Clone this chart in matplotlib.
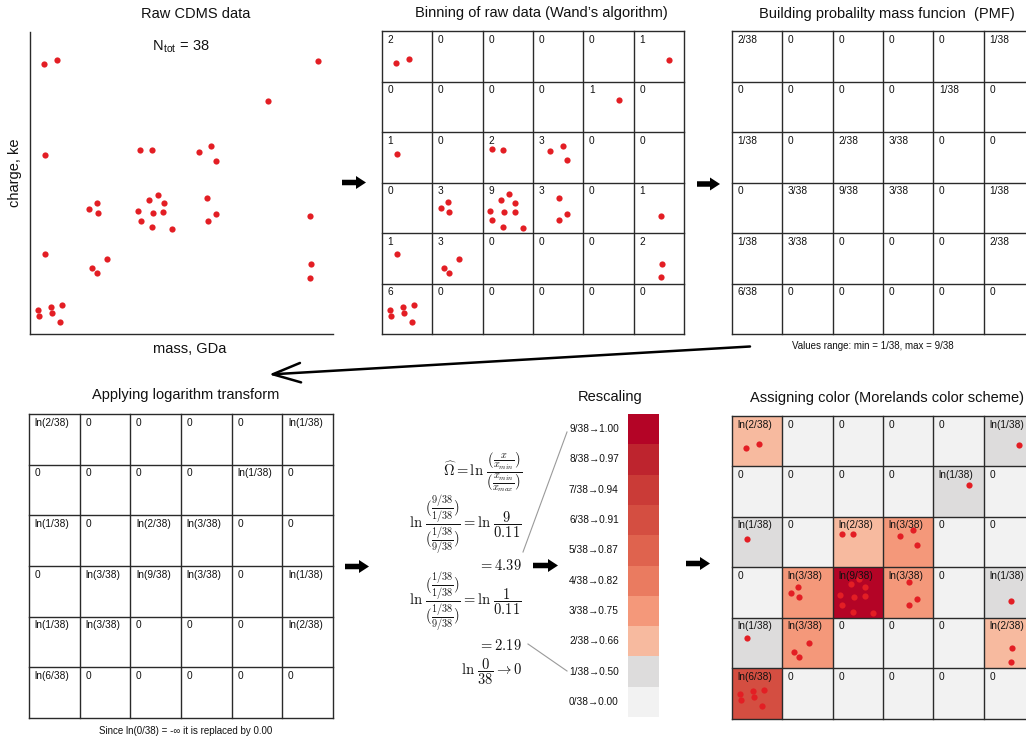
import numpy as np
import matplotlib
matplotlib.use("Agg")
import matplotlib.pyplot as plt
from matplotlib.patches import FancyArrow

plt.rcParams['font.family'] = ['Liberation Sans', 'DejaVu Sans']
plt.rcParams['mathtext.fontset'] = 'cm'

# ---------------- data ----------------
mass = [0.28, 0.54, 5.71, 4.71, 0.30, 2.18, 2.41, 3.34, 3.59, 3.68,
        2.53, 2.36, 2.65, 2.14, 2.43, 2.64, 2.19, 2.41, 2.81, 3.51,
        3.68, 3.52, 1.32, 1.17, 1.34, 5.54, 0.30, 1.52, 1.23, 1.33,
        5.56, 5.54, 0.15, 0.18, 0.41, 0.44, 0.63, 0.60]
charge = [5.36, 5.44, 5.43, 4.63, 3.56, 3.66, 3.65, 3.62, 3.73, 3.44,
          2.77, 2.66, 2.60, 2.44, 2.41, 2.42, 2.25, 2.12, 2.09, 2.70,
          2.38, 2.25, 2.61, 2.49, 2.41, 2.34, 1.59, 1.49, 1.31, 1.21,
          1.39, 1.12, 0.48, 0.36, 0.54, 0.42, 0.57, 0.24]
n_bins = 6
n_total = 38
cb_numerators = [0, 1, 2, 3, 4, 5, 6, 7, 8, 9]
cb_values = [0.00, 0.50, 0.66, 0.75, 0.82, 0.87, 0.91, 0.94, 0.97, 1.00]
formula_results = [4.39, 2.19]

counts, _, _ = np.histogram2d(mass, charge, bins=n_bins, range=[[0, 6], [0, 6]])
counts = counts.astype(int)  # counts[i_mass, j_charge]

W, H = 1026, 744
fig = plt.figure(figsize=(W / 100, H / 100), dpi=100)

def px_axes(x0, y0, x1, y1):
    return fig.add_axes([x0 / W, 1 - y1 / H, (x1 - x0) / W, (y1 - y0) / H])

cmap = plt.get_cmap('coolwarm').with_extremes(bad='#f2f2f2')
dot_color = '#e31e24'
line_color = '#2a2a2a'
val_lookup = dict(zip(cb_numerators, cb_values))

# -------------- raw scatter --------------
ax = px_axes(30, 32, 333, 334)
ax.scatter(mass, charge, s=20, color=dot_color, linewidths=0, zorder=3)
ax.set_xlim(0, 6)
ax.set_ylim(0, 6)
ax.set_xticks([])
ax.set_yticks([])
for s in ['top', 'right']:
    ax.spines[s].set_visible(False)
for s in ['left', 'bottom']:
    ax.spines[s].set_color(line_color)
    ax.spines[s].set_linewidth(1.0)
ax.patch.set_alpha(0)

def grid_axes(x0, y0, x1, y1, labels, colors=None, dots=False):
    g = px_axes(x0, y0, x1, y1)
    g.set_xlim(0, 6)
    g.set_ylim(0, 6)
    g.set_xticks([])
    g.set_yticks([])
    for s in g.spines.values():
        s.set_visible(False)
    g.patch.set_alpha(0)
    if colors is not None:
        edges = np.arange(n_bins + 1)
        g.pcolormesh(edges, edges, colors.T, cmap=cmap, vmin=0, vmax=1, zorder=1)
    for k in range(n_bins + 1):
        g.plot([k, k], [0, 6], color=line_color, lw=1.0, clip_on=False, zorder=2)
        g.plot([0, 6], [k, k], color=line_color, lw=1.0, clip_on=False, zorder=2)
    for i in range(n_bins):
        for j in range(n_bins):
            g.text(i + 0.11, j + 0.93, labels(counts[i, j]), fontsize=7.3,
                   ha='left', va='top', color='#111111', zorder=4)
    if dots:
        g.scatter(mass, charge, s=20, color=dot_color, linewidths=0, zorder=3, clip_on=False)
    return g

grid_axes(382, 31, 684, 334, lambda n: str(n), dots=True)
grid_axes(732, 31, 1034, 334, lambda n: f"{n}/{n_total}" if n else "0")
grid_axes(29, 414, 333, 718, lambda n: f"ln({n}/{n_total})" if n else "0")
cell_vals = np.ma.masked_equal(
    np.vectorize(lambda n: val_lookup[n])(counts).astype(float), 0.0)
grid_axes(732, 416, 1034, 718.5, lambda n: f"ln({n}/{n_total})" if n else "0",
          colors=cell_vals, dots=True)

# -------------- colorbar --------------
cb = px_axes(628, 414, 659, 717)
cbv = np.ma.masked_equal(np.array(cb_values, dtype=float), 0.0).reshape(-1, 1)
cb.pcolormesh([0, 1], np.arange(len(cb_values) + 1), cbv, cmap=cmap, vmin=0, vmax=1)
cb.set_xlim(0, 1)
cb.set_ylim(0, len(cb_values))
cb.axis('off')

# -------------- overlay --------------
ov = fig.add_axes([0, 0, 1, 1])
ov.set_xlim(0, W)
ov.set_ylim(H, 0)
ov.axis('off')
ov.patch.set_alpha(0)

tkw = dict(fontsize=10.5, ha='center', va='center', color='#111111')
ov.text(196, 14, "Raw CDMS data", **tkw)
ov.text(541, 13, "Binning of raw data (Wand\u2019s algorithm)", **tkw)
ov.text(887, 14, "Building probalilty mass funcion  (PMF)", **tkw)
ov.text(186, 395, "Applying logarithm transform", **tkw)
ov.text(610, 397, "Rescaling", **tkw)
ov.text(887, 398, "Assigning color (Morelands color scheme)", **tkw)

ov.text(181, 47, r"N$_{\mathregular{tot}}$ = %d" % n_total, **tkw)
ov.text(190, 349, "mass, GDa", **tkw)
ov.text(15, 173, "charge, ke", rotation=90, **tkw)

ov.text(873, 346, f"Values range: min = 1/{n_total}, max = 9/{n_total}",
        fontsize=7, ha='center', va='center', color='#111111')
ov.text(186, 731, f"Since ln(0/{n_total}) = -\u221e it is replaced by 0.00",
        fontsize=7, ha='center', va='center', color='#111111')

# colorbar labels
seg_h = (717 - 414) / len(cb_values)
for k, (num, v) in enumerate(zip(cb_numerators, cb_values)):
    yc = 717 - (k + 0.5) * seg_h
    ov.text(569, yc, f"{num}/{n_total}\u2192{v:.2f}", fontsize=7.3,
            ha='left', va='center', color='#111111')

# formulas
fkw = dict(fontsize=10.5, ha='right', va='center', color='#111111')
xr = 522
ov.text(xr, 472, r"$\widehat{\Omega} = \ln\,\dfrac{(\frac{x}{x_{min}})}{(\frac{x_{min}}{x_{max}})}$", **fkw)
ov.text(xr, 525, r"$\ln\,\dfrac{(\frac{9/38}{1/38})}{(\frac{1/38}{9/38})} = \ln\,\dfrac{9}{0.11}$", **fkw)
ov.text(xr, 565, r"$= %.2f$" % formula_results[0], **fkw)
ov.text(xr, 602, r"$\ln\,\dfrac{(\frac{1/38}{1/38})}{(\frac{1/38}{9/38})} = \ln\,\dfrac{1}{0.11}$", **fkw)
ov.text(xr, 645, r"$= %.2f$" % formula_results[1], **fkw)
ov.text(xr, 672, r"$\ln\,\dfrac{0}{38} \rightarrow 0$", **fkw)

# connector lines
ov.plot([523, 567], [552, 432], color='#9a9a9a', lw=0.8)
ov.plot([528, 567], [644, 671], color='#9a9a9a', lw=0.8)

# block arrows
for (x0, x1, y) in [(342, 366, 182.5), (697, 720, 184), (345, 369, 566.5),
                    (533, 558, 565.5), (686, 710, 563.5)]:
    ov.add_patch(FancyArrow(x0, y, x1 - x0, 0, width=5.5, head_width=13,
                            head_length=10, length_includes_head=True,
                            color='black', lw=0))

# long return arrow
ov.annotate("", xy=(269, 374.5), xytext=(750, 346.5),
            arrowprops=dict(arrowstyle="->,head_length=2.0,head_width=0.7",
                            lw=1.8, color='black', mutation_scale=10,
                            shrinkA=0, shrinkB=0))

fig.savefig("out.png", dpi=100)
